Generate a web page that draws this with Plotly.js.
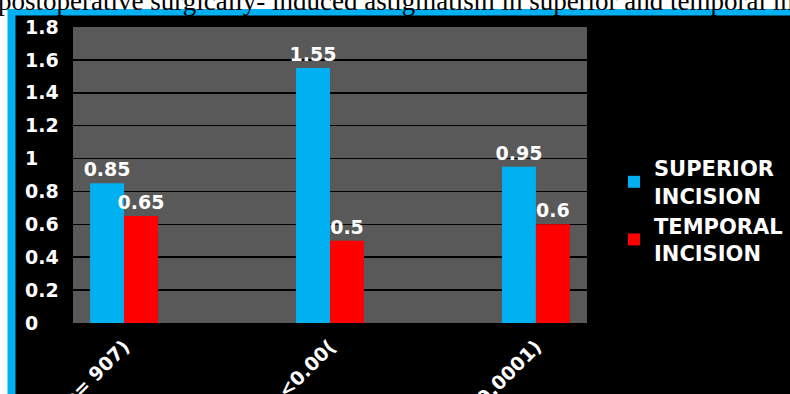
<!DOCTYPE html>
<html>
<head>
<meta charset="utf-8">
<script src="https://cdn.plot.ly/plotly-3.0.1.min.js"></script>
<style>
html,body{margin:0;padding:0;background:#fff;}
#chart{width:790px;height:394px;}
</style>
</head>
<body>
<div id="chart"></div>
<script>
// ---- data ----
const categories = ["1 DAY (p= 907)", "1 WEEK (p<0.00(", "1 MONTH (p<0.0001)"];
const superiorValues = [0.85, 1.55, 0.95];
const temporalValues = [0.65, 0.5, 0.6];
const seriesNames = ["SUPERIOR<br>INCISION", "TEMPORAL<br>INCISION"];
const titleText = "postoperative surgically- induced astigmatism in superior and temporal incision";

// ---- layout helpers (pixel -> paper) ----
const W = 790, H = 394;
const mT = 27, mB = 71;
const plotH = H - mT - mB;
const px = v => v / W;
const py = v => (H - mB - v) / plotH;

const labelFont = {family: "DejaVu Sans", size: 19, color: "#ffffff", weight: "bold"};

const traces = [
  {
    type: "bar", x: categories, y: superiorValues, name: seriesNames[0],
    marker: {color: "#00B0F0"},
    text: superiorValues.map(String), textposition: "outside",
    textfont: labelFont, constraintext: "none", cliponaxis: false
  },
  {
    type: "bar", x: categories, y: temporalValues, name: seriesNames[1],
    marker: {color: "#FF0000"},
    text: temporalValues.map(String), textposition: "outside",
    textfont: labelFont, constraintext: "none", cliponaxis: false
  }
];

const layout = {
  width: W, height: H,
  margin: {l: 0, r: 0, t: mT, b: mB, pad: 0},
  paper_bgcolor: "#ffffff",
  plot_bgcolor: "rgba(0,0,0,0)",
  barmode: "group",
  bargap: 0.67,
  bargroupgap: 0,
  showlegend: true,
  legend: {
    x: px(614), y: py(148), xanchor: "left", yanchor: "top",
    font: {family: "DejaVu Sans", size: 21, color: "#ffffff", weight: "bold"},
    bgcolor: "rgba(0,0,0,0)", borderwidth: 0
  },
  xaxis: {
    domain: [px(73), px(587)],
    range: [-0.248, 2.248],
    showgrid: false, zeroline: false, showline: false, ticks: "",
    tickangle: -45,
    ticklabelstandoff: 8,
    tickfont: labelFont,
    fixedrange: true
  },
  yaxis: {
    range: [0, 1.8], dtick: 0.2,
    anchor: "free", position: px(24), side: "right",
    showgrid: true, gridcolor: "#000000", gridwidth: 1.5,
    zeroline: false, showline: false, ticks: "",
    tickfont: labelFont,
    fixedrange: true
  },
  shapes: [
    {type: "rect", xref: "paper", yref: "paper", layer: "below",
     x0: px(7.5), x1: px(800), y0: py(400), y1: py(9),
     fillcolor: "#00B0F0", line: {width: 0}},
    {type: "rect", xref: "paper", yref: "paper", layer: "below",
     x0: px(15.5), x1: px(800), y0: py(400), y1: py(15.5),
     fillcolor: "#000000", line: {width: 0}},
    {type: "rect", xref: "paper", yref: "paper", layer: "below",
     x0: px(73), x1: px(587), y0: 0, y1: 1,
     fillcolor: "#595959", line: {width: 0}}
  ],
  annotations: [
    {text: titleText, xref: "paper", yref: "paper",
     x: px(-4), y: py(18), xanchor: "left", yanchor: "bottom",
     showarrow: false,
     font: {family: "Liberation Serif", size: 27, color: "#000000"}}
  ]
};

Plotly.newPlot("chart", traces, layout, {displayModeBar: false, staticPlot: true});
</script>
</body>
</html>
